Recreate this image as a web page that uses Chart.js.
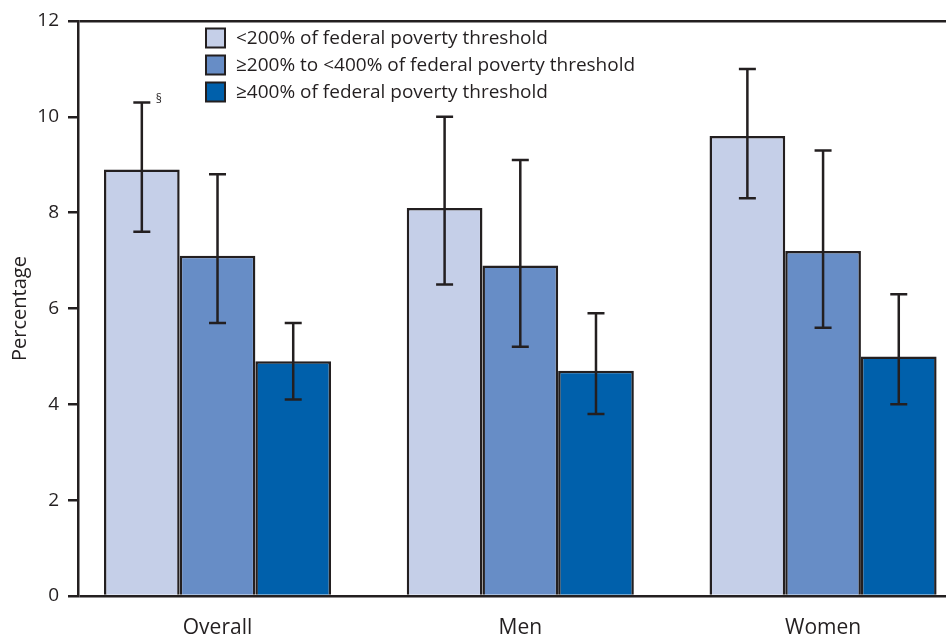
<!DOCTYPE html>
<html>
<head>
<meta charset="utf-8">
<script src="https://cdn.jsdelivr.net/npm/chart.js@4"></script>
<style>
html,body{margin:0;padding:0;background:#fff;}
#wrap{width:946px;height:636px;}
</style>
</head>
<body>
<div id="wrap"><canvas id="c" width="946" height="636"></canvas></div>
<script>
const categories = ['Overall', 'Men', 'Women'];
const seriesLabels = [
  '<200% of federal poverty threshold',
  '\u2265200% to <400% of federal poverty threshold',
  '\u2265400% of federal poverty threshold'
];
const lowIncome = [8.9, 8.1, 9.6];
const lowIncomeLower = [7.6, 6.5, 8.3];
const lowIncomeUpper = [10.3, 10.0, 11.0];
const midIncome = [7.1, 6.9, 7.2];
const midIncomeLower = [5.7, 5.2, 5.6];
const midIncomeUpper = [8.8, 9.1, 9.3];
const highIncome = [4.9, 4.7, 5.0];
const highIncomeLower = [4.1, 3.8, 4.0];
const highIncomeUpper = [5.7, 5.9, 6.3];
const yTicks = [0, 2, 4, 6, 8, 10, 12];
const footnote = '\u00a7';

const INK = '#231f20';
const FONT = '"Open Sans", "Noto Sans", sans-serif';
const colors = ['#c5cfe8', '#678dc6', '#0060ab'];
const seriesValues = [lowIncome, midIncome, highIncome];
const seriesLower = [lowIncomeLower, midIncomeLower, highIncomeLower];
const seriesUpper = [lowIncomeUpper, midIncomeUpper, highIncomeUpper];

const datasets = seriesValues.map((vals, i) => ({
  label: seriesLabels[i],
  data: vals.map((v, j) => ({ x: j, y: v })),
  backgroundColor: colors[i],
  borderColor: INK,
  borderWidth: 2.5,
  borderSkipped: 'bottom',
  categoryPercentage: 0.75,
  barPercentage: 1.0
}));

const extras = {
  id: 'extras',
  afterDatasetsDraw(chart) {
    const ctx = chart.ctx;
    const ys = chart.scales.y;
    ctx.save();
    ctx.strokeStyle = INK;
    ctx.lineWidth = 2.5;
    chart.data.datasets.forEach((ds, i) => {
      const meta = chart.getDatasetMeta(i);
      meta.data.forEach((bar, j) => {
        const x = bar.x;
        const yl = ys.getPixelForValue(seriesLower[i][j]);
        const yu = ys.getPixelForValue(seriesUpper[i][j]);
        ctx.beginPath();
        ctx.moveTo(x, yl); ctx.lineTo(x, yu);
        ctx.moveTo(x - 8.5, yl); ctx.lineTo(x + 8.5, yl);
        ctx.moveTo(x - 8.5, yu); ctx.lineTo(x + 8.5, yu);
        ctx.stroke();
      });
    });
    // footnote marker
    const b0 = chart.getDatasetMeta(0).data[0];
    ctx.fillStyle = INK;
    ctx.font = '12px ' + FONT;
    ctx.textAlign = 'center';
    ctx.textBaseline = 'alphabetic';
    ctx.fillText(footnote, b0.x + 17, ys.getPixelForValue(seriesUpper[0][0]) + 1);
    // legend
    ctx.font = '19px ' + FONT;
    ctx.textAlign = 'left';
    ctx.textBaseline = 'middle';
    chart.data.datasets.forEach((ds, i) => {
      const top = 28.5 + 27 * i;
      ctx.fillStyle = ds.backgroundColor;
      ctx.fillRect(206, top, 19, 19);
      ctx.lineWidth = 2;
      ctx.strokeStyle = INK;
      ctx.strokeRect(206, top, 19, 19);
      ctx.fillStyle = INK;
      ctx.fillText(ds.label, 236, top + 10);
    });
    ctx.restore();
  }
};

new Chart(document.getElementById('c'), {
  type: 'bar',
  data: { datasets },
  options: {
    responsive: false,
    animation: false,
    layout: { padding: { top: 21, right: 0, left: 0, bottom: 0 } },
    plugins: { legend: { display: false }, tooltip: { enabled: false } },
    scales: {
      x: {
        type: 'linear',
        offset: false,
        min: -0.4608,
        max: 2.406,
        grid: { display: false, offset: false },
        border: { display: false },
        ticks: {
          stepSize: 1,
          includeBounds: false,
          autoSkip: false,
          maxRotation: 0,
          padding: 11,
          color: INK,
          font: { family: FONT, size: 21 },
          callback: v => Number.isInteger(v) ? categories[v] : ''
        },
        afterFit: s => { s.height = 40; }
      },
      y: {
        min: 0,
        max: 12,
        afterBuildTicks: s => { s.ticks = yTicks.map(v => ({ value: v })); },
        grid: {
          color: c => (c.tick && (c.tick.value === 0 || c.tick.value === 12)) ? INK : 'rgba(0,0,0,0)',
          tickColor: INK,
          lineWidth: 2.5,
          tickLength: 10,
          drawOnChartArea: true
        },
        border: { display: true, color: INK, width: 2.5 },
        ticks: {
          padding: 9,
          color: INK,
          font: { family: FONT, size: 19 }
        },
        title: {
          display: true,
          text: 'Percentage',
          color: INK,
          font: { family: FONT, size: 20 },
          padding: { top: 8, bottom: 0 }
        },
        afterFit: s => { s.width = 78; }
      }
    }
  },
  plugins: [extras]
});
</script>
</body>
</html>
